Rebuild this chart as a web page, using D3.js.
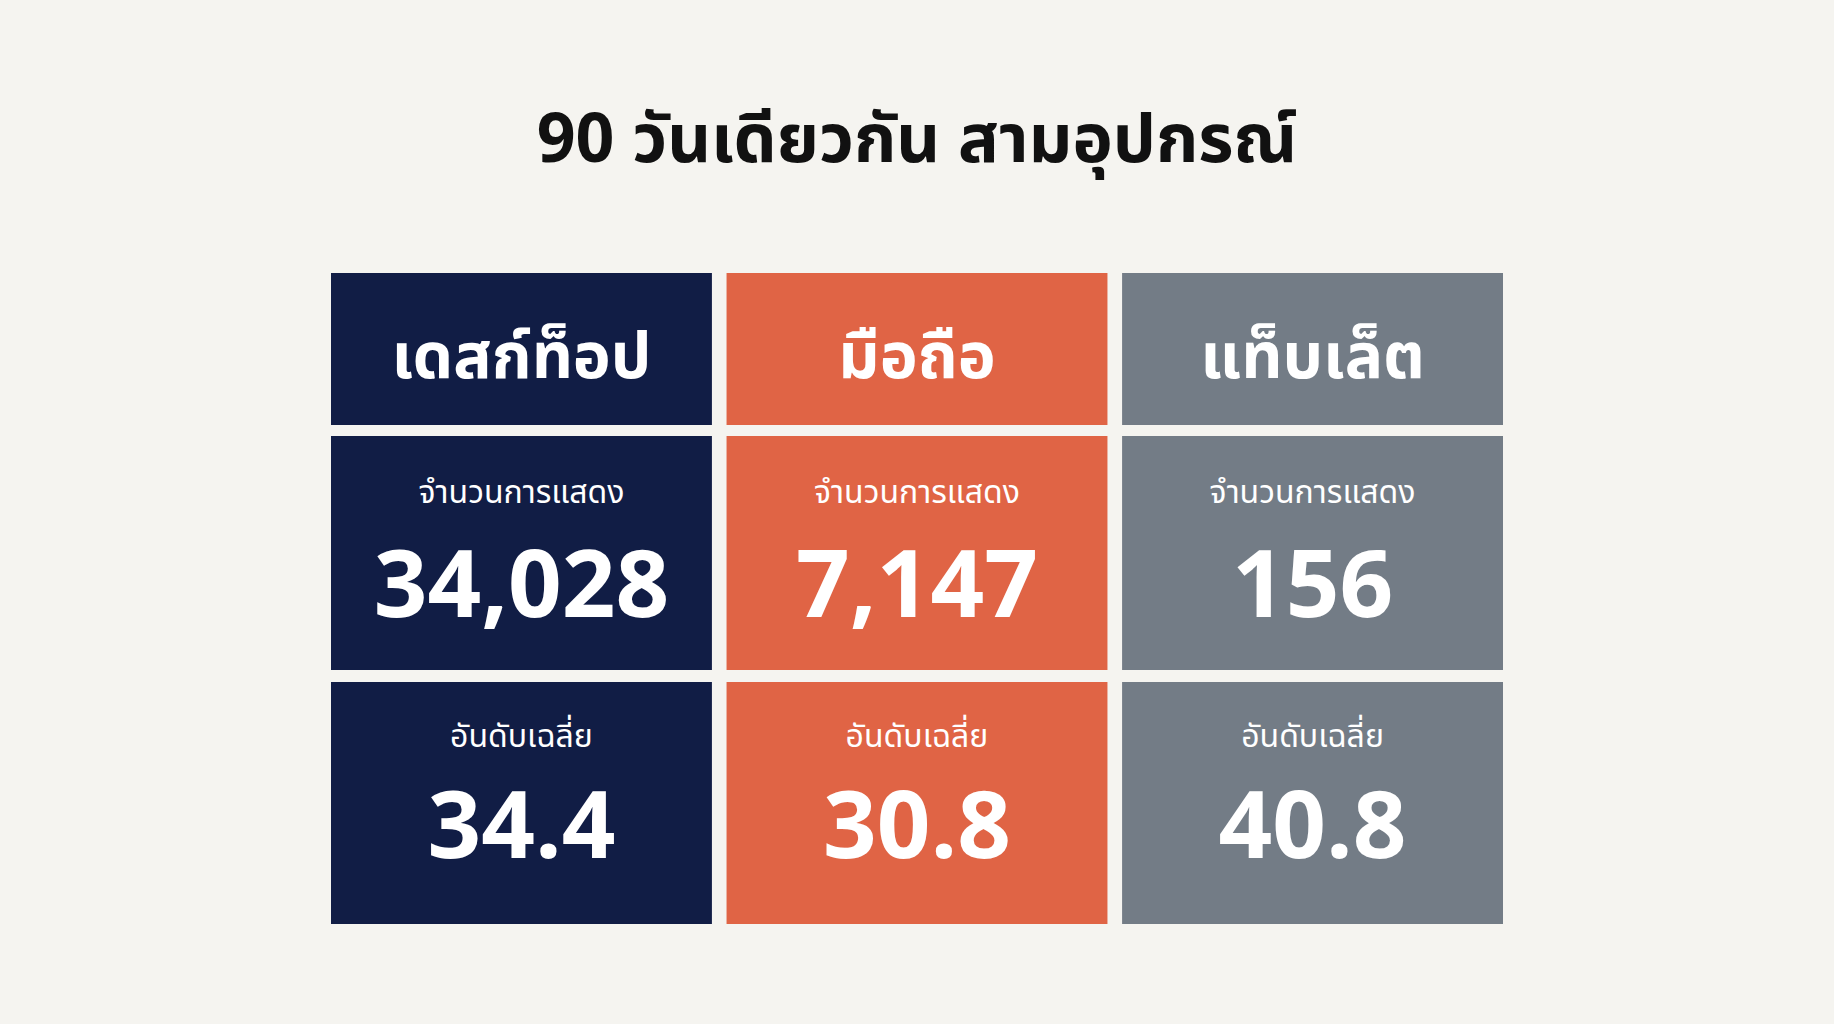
<!DOCTYPE html>
<html><head><meta charset="utf-8">
<script src="https://cdn.jsdelivr.net/npm/d3@7"></script>
<style>body{margin:0;background:#f5f4f0}</style>
</head><body>
<svg id="chart"></svg>
<script>
var devices = ["เดสก์ท็อป", "มือถือ", "แท็บเล็ต"];
var impressions = [34028, 7147, 156];
var avgRank = [34.4, 30.8, 40.8];
var colors = ["#111d45", "#e06445", "#737c86"];
var impLabel = "จำนวนการแสดง";
var rankLabel = "อันดับเฉลี่ย";

var W = 1834, H = 1024;
var font = "'Noto Sans Thai','Noto Sans','Loma','Garuda',sans-serif";
var svg = d3.select("#chart").attr("width", W).attr("height", H);
svg.append("rect").attr("width", W).attr("height", H).attr("fill", "#f5f4f0");

svg.append("text").attr("x", W/2).attr("y", 162).attr("text-anchor", "middle")
  .attr("font-family", font).attr("font-weight", 700).attr("font-size", 68)
  .attr("fill", "#111").text("90 วันเดียวกัน สามอุปกรณ์");

var x = d3.scaleBand().domain(devices).range([331, 1503]).paddingInner(0.037);
// rows: header, impressions, rank
var rows = [{y0:273, y1:425}, {y0:436, y1:670}, {y0:682, y1:924}];

var cols = svg.selectAll("g.col").data(devices).enter().append("g")
  .attr("transform", d => "translate(" + x(d) + ",0)");

rows.forEach(function(r){
  cols.append("rect").attr("y", r.y0).attr("width", x.bandwidth()).attr("height", r.y1 - r.y0)
    .attr("fill", (d, i) => colors[i]);
});

function txt(y, size, weight, f){
  cols.append("text").attr("x", x.bandwidth()/2).attr("y", y).attr("text-anchor", "middle")
    .attr("font-family", font).attr("font-weight", weight).attr("font-size", size)
    .attr("fill", "#fff").text(f);
}
var fmt = d3.format(",");
txt(378, 64, 700, d => d);
txt(503, 32, 400, () => impLabel);
txt(617, 94, 700, (d, i) => fmt(impressions[i]));
txt(747, 32, 400, () => rankLabel);
txt(858, 94, 700, (d, i) => avgRank[i].toFixed(1));
</script>
</body></html>
